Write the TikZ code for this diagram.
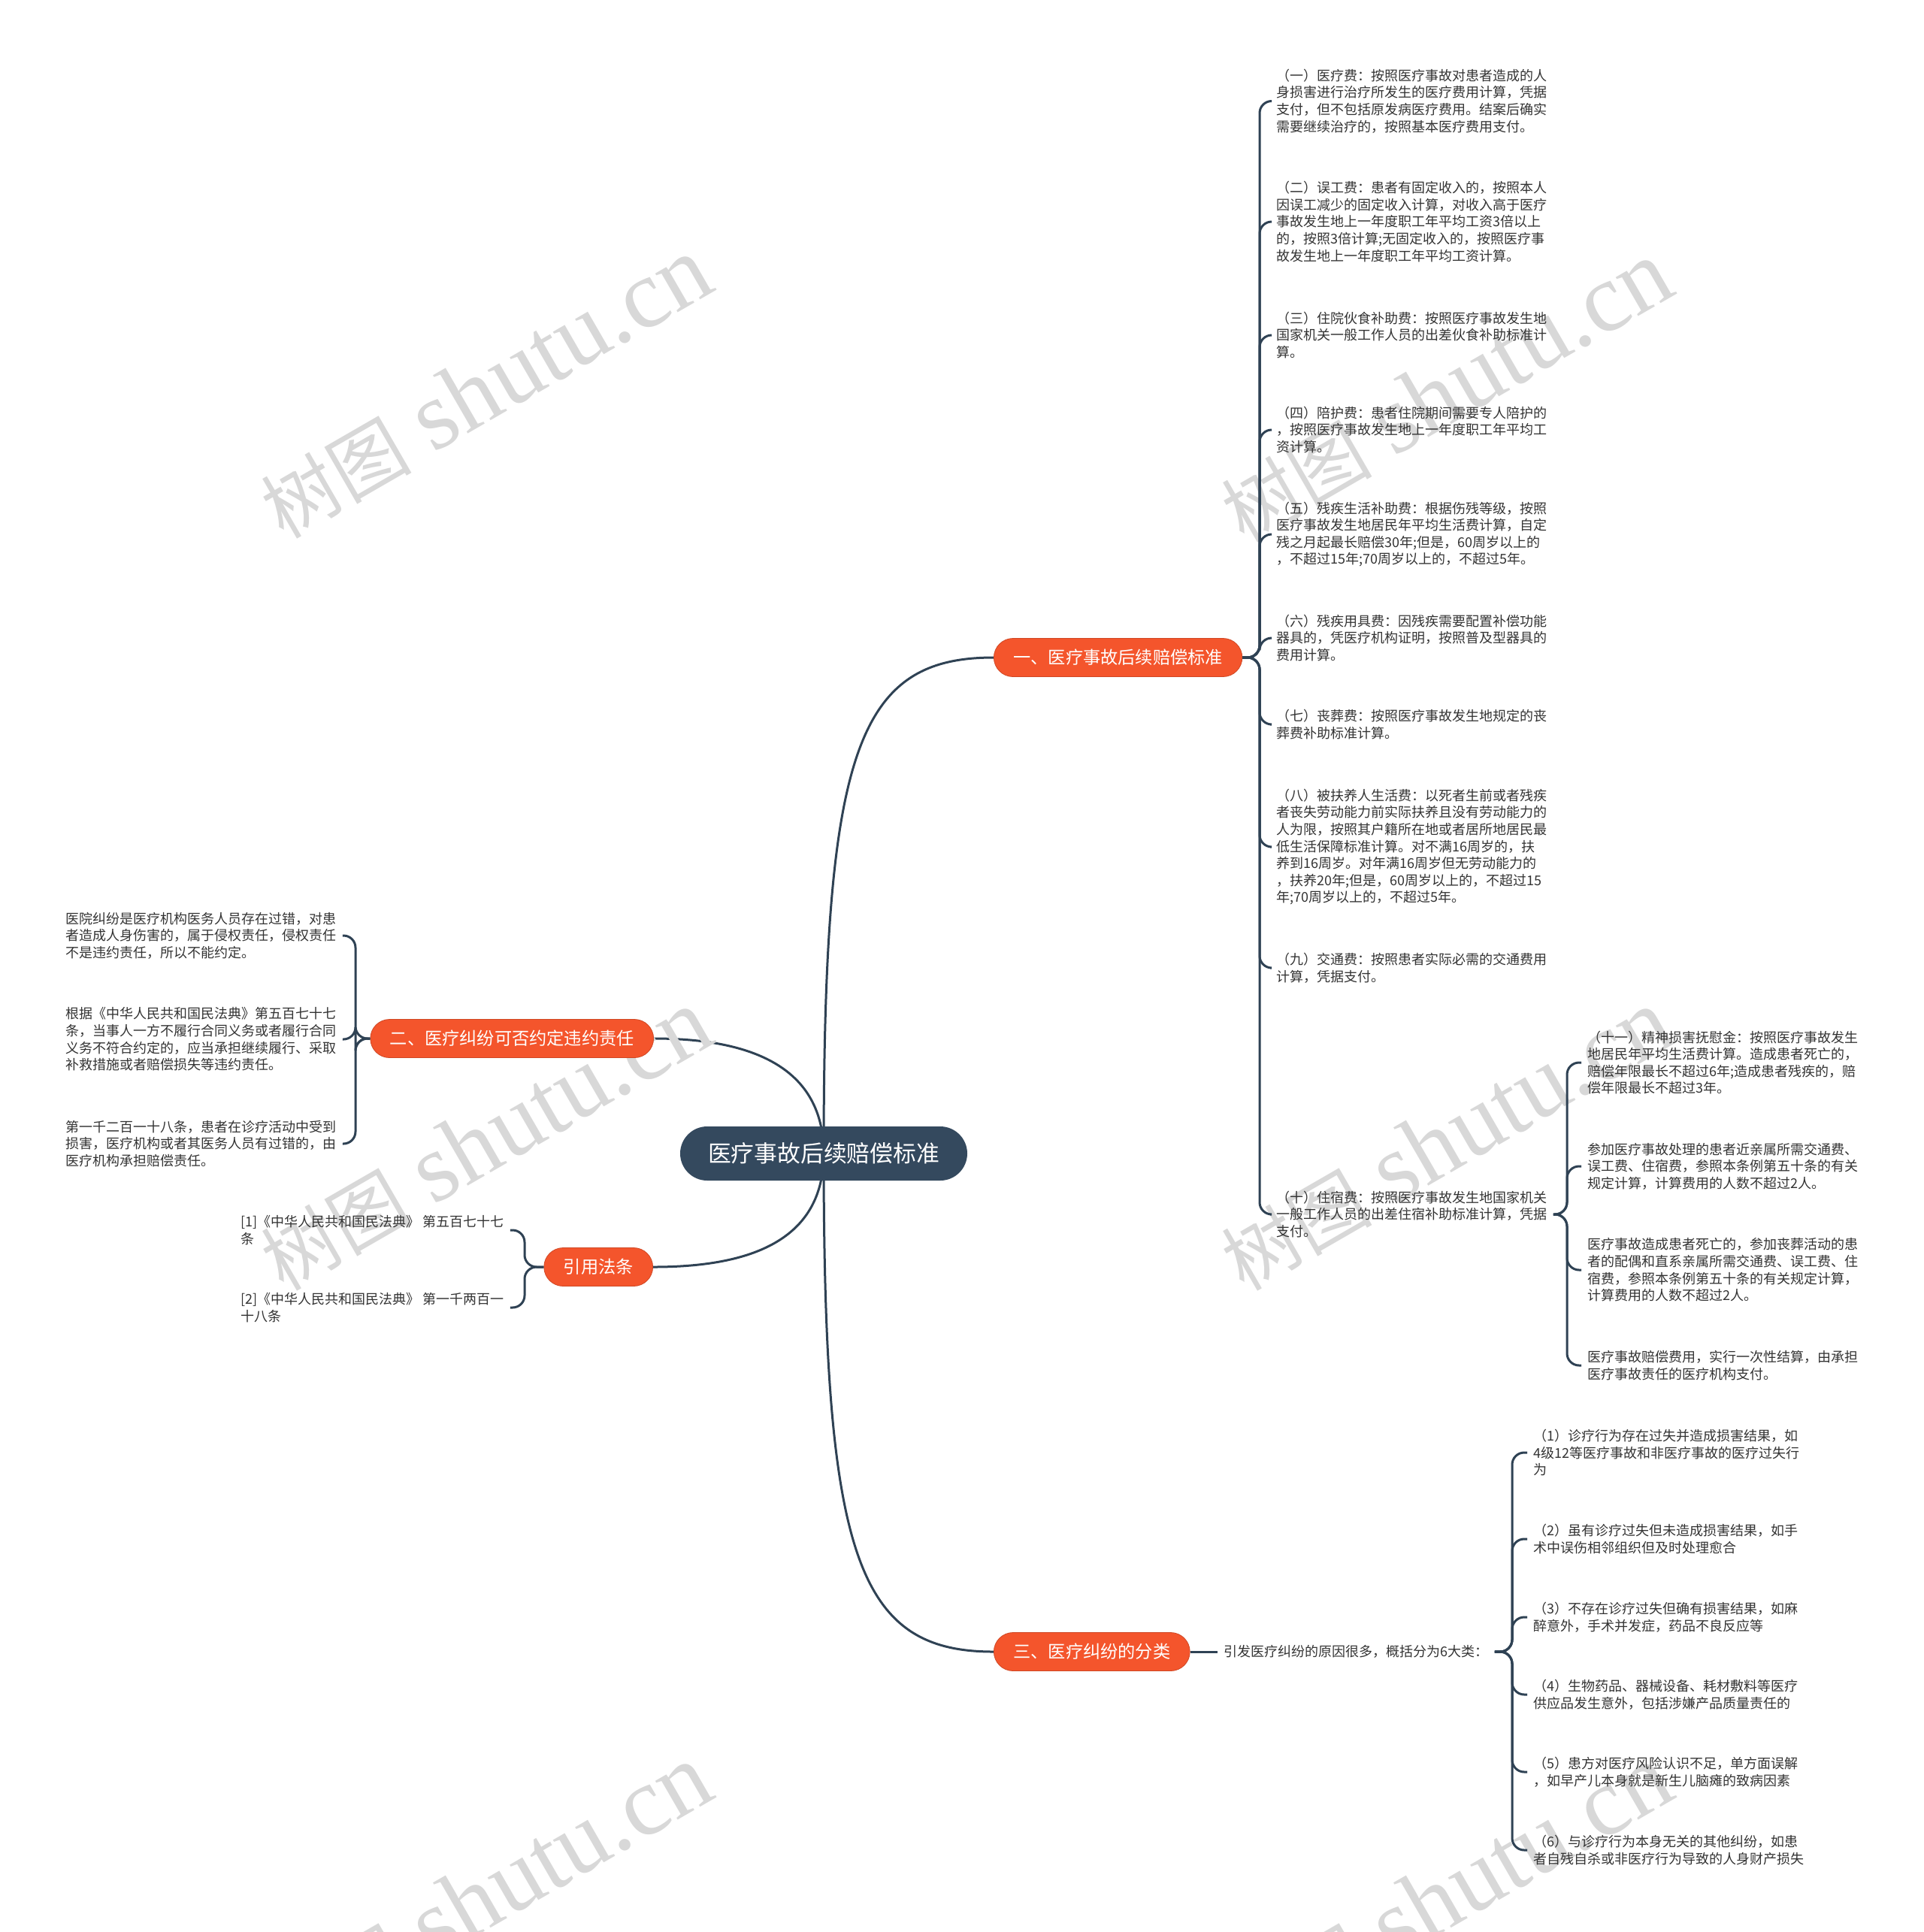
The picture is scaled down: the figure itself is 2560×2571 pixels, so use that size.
\documentclass[tikz,border=0pt]{standalone}
\usepackage{fontspec}
\setmainfont{Noto Sans CJK SC}
\newfontfamily\wmserif{Liberation Serif}
\usetikzlibrary{calc,backgrounds}
\definecolor{linec}{HTML}{2F4254}
\definecolor{rootc}{HTML}{34495E}
\definecolor{brc}{HTML}{F4552C}
\definecolor{txtc}{HTML}{333333}
\definecolor{wmc}{HTML}{D8D8D8}
\newcommand{\wmtext}{{\fontsize{50}{50}\selectfont 树图\hspace{0.3em}}{\wmserif\fontsize{65}{65}\selectfont shutu.cn}}
\begin{document}
\begin{tikzpicture}[x=0.5pt,y=-0.5pt,
 conn/.style={draw=linec,line width=1.5pt,rounded corners=8pt},
 rootbox/.style={fill=rootc,text=white,rounded corners=18pt,minimum height=36pt,inner xsep=18.5pt,inner ysep=0pt,font=\fontsize{15.4}{18}\selectfont},
 branchbox/.style={fill=brc,draw=brc!85!black,line width=0.4pt,text=white,rounded corners=12.75pt,minimum height=25.5pt,inner xsep=13pt,inner ysep=0pt,font=\fontsize{11.6}{14}\selectfont},
 leaf/.style={text=txtc,align=left,inner xsep=4pt,inner ysep=1pt,anchor=west,font=\fontsize{9}{11.3}\selectfont},
 wm/.style={text=wmc,rotate=30}]
\useasboundingbox (0,0) rectangle (2560,2571);

% watermarks
\node[wm] (wm1) at (646,516) {\wmtext};
\node[wm] (wm2) at (1924,521) {\wmtext};
\node[wm] (wm3) at (646,1517) {\wmtext};
\node[wm] (wm4) at (1924,1517) {\wmtext};
\node[wm] (wm5) at (646,2522) {\wmtext};
\node[wm] (wm6) at (1924,2522) {\wmtext};

% root and branches
\node[rootbox] (root) at (1096,1535) {医疗事故后续赔偿标准};
\node[branchbox,anchor=west] (b1) at (1322,875) {一、医疗事故后续赔偿标准};
\node[branchbox,anchor=east] (b2) at (870,1382) {二、医疗纠纷可否约定违约责任};
\node[branchbox,anchor=west] (b3) at (1322,2198) {三、医疗纠纷的分类};
\node[branchbox,anchor=east] (b4) at (869,1686) {引用法条};

% branch 1 leaves
\coordinate (s1) at (1676,875);
\node[leaf] (l1) at (1690,134.5) {（一）医疗费：按照医疗事故对患者造成的人\\身损害进行治疗所发生的医疗费用计算，凭据\\支付，但不包括原发病医疗费用。结案后确实\\需要继续治疗的，按照基本医疗费用支付。};
\node[leaf] (l2) at (1690,295) {（二）误工费：患者有固定收入的，按照本人\\因误工减少的固定收入计算，对收入高于医疗\\事故发生地上一年度职工年平均工资3倍以上\\的，按照3倍计算;无固定收入的，按照医疗事\\故发生地上一年度职工年平均工资计算。};
\node[leaf] (l3) at (1690,446) {（三）住院伙食补助费：按照医疗事故发生地\\国家机关一般工作人员的出差伙食补助标准计\\算。};
\node[leaf] (l4) at (1690,572) {（四）陪护费：患者住院期间需要专人陪护的\\，按照医疗事故发生地上一年度职工年平均工\\资计算。};
\node[leaf] (l5) at (1690,711) {（五）残疾生活补助费：根据伤残等级，按照\\医疗事故发生地居民年平均生活费计算，自定\\残之月起最长赔偿30年;但是，60周岁以上的\\，不超过15年;70周岁以上的，不超过5年。};
\node[leaf] (l6) at (1690,849) {（六）残疾用具费：因残疾需要配置补偿功能\\器具的，凭医疗机构证明，按照普及型器具的\\费用计算。};
\node[leaf] (l7) at (1690,964) {（七）丧葬费：按照医疗事故发生地规定的丧\\葬费补助标准计算。};
\node[leaf] (l8) at (1690,1127) {（八）被扶养人生活费：以死者生前或者残疾\\者丧失劳动能力前实际扶养且没有劳动能力的\\人为限，按照其户籍所在地或者居所地居民最\\低生活保障标准计算。对不满16周岁的，扶\\养到16周岁。对年满16周岁但无劳动能力的\\，扶养20年;但是，60周岁以上的，不超过15\\年;70周岁以上的，不超过5年。};
\node[leaf] (l9) at (1690,1288) {（九）交通费：按照患者实际必需的交通费用\\计算，凭据支付。};
\node[leaf] (l10) at (1690,1616) {（十）住宿费：按照医疗事故发生地国家机关\\一般工作人员的出差住宿补助标准计算，凭据\\支付。};

% leaves of (十)
\coordinate (s10) at (2085,1616);
\node[leaf] (k1) at (2104,1414) {（十一）精神损害抚慰金：按照医疗事故发生\\地居民年平均生活费计算。造成患者死亡的，\\赔偿年限最长不超过6年;造成患者残疾的，赔\\偿年限最长不超过3年。};
\node[leaf] (k2) at (2104,1552) {参加医疗事故处理的患者近亲属所需交通费、\\误工费、住宿费，参照本条例第五十条的有关\\规定计算，计算费用的人数不超过2人。};
\node[leaf] (k3) at (2104,1690) {医疗事故造成患者死亡的，参加丧葬活动的患\\者的配偶和直系亲属所需交通费、误工费、住\\宿费，参照本条例第五十条的有关规定计算，\\计算费用的人数不超过2人。};
\node[leaf] (k4) at (2104,1817) {医疗事故赔偿费用，实行一次性结算，由承担\\医疗事故责任的医疗机构支付。};

% branch 2 leaves
\coordinate (s2) at (473,1382);
\node[leaf] (m1) at (79,1245) {医院纠纷是医疗机构医务人员存在过错，对患\\者造成人身伤害的，属于侵权责任，侵权责任\\不是违约责任，所以不能约定。};
\node[leaf] (m2) at (79,1383) {根据《中华人民共和国民法典》第五百七十七\\条，当事人一方不履行合同义务或者履行合同\\义务不符合约定的，应当承担继续履行、采取\\补救措施或者赔偿损失等违约责任。};
\node[leaf] (m3) at (79,1522) {第一千二百一十八条，患者在诊疗活动中受到\\损害，医疗机构或者其医务人员有过错的，由\\医疗机构承担赔偿责任。};

% branch 4 leaves
\coordinate (s4) at (698,1686);
\node[leaf] (r1) at (312,1637) {[1]《中华人民共和国民法典》 第五百七十七\\条};
\node[leaf] (r2) at (312,1740) {[2]《中华人民共和国民法典》 第一千两百一\\十八条};

% branch 3
\node[leaf] (t0) at (1620,2198) {引发医疗纠纷的原因很多，概括分为6大类：};
\coordinate (s3) at (2012,2198);
\node[leaf] (c1) at (2032,1933) {（1）诊疗行为存在过失并造成损害结果，如\\4级12等医疗事故和非医疗事故的医疗过失行\\为};
\node[leaf] (c2) at (2032,2048) {（2）虽有诊疗过失但未造成损害结果，如手\\术中误伤相邻组织但及时处理愈合};
\node[leaf] (c3) at (2032,2152) {（3）不存在诊疗过失但确有损害结果，如麻\\醉意外，手术并发症，药品不良反应等};
\node[leaf] (c4) at (2032,2255) {（4）生物药品、器械设备、耗材敷料等医疗\\供应品发生意外，包括涉嫌产品质量责任的};
\node[leaf] (c5) at (2032,2358) {（5）患方对医疗风险认识不足，单方面误解\\，如早产儿本身就是新生儿脑瘫的致病因素};
\node[leaf] (c6) at (2032,2462) {（6）与诊疗行为本身无关的其他纠纷，如患\\者自残自杀或非医疗行为导致的人身财产损失};

\begin{scope}[on background layer]
\draw[conn] (root.center) .. controls (1096,1000) and (1140,875) .. (b1.west);
\draw[conn] (root.center) .. controls (1096,1420) and (1000,1382) .. (b2.east);
\draw[conn] (root.center) .. controls (1096,1650) and (1000,1686) .. (b4.east);
\draw[conn] (root.center) .. controls (1096,2070) and (1140,2198) .. (b3.west);
\end{scope}

\foreach \n in {l1,l2,l3,l4,l5,l6,l7,l8,l9,l10}
  \draw[conn] (b1.east) -- (s1) -- (s1 |- \n.west) -- (\n.west);
\foreach \n in {k1,k2,k3,k4}
  \draw[conn] (l10.east) -- (s10) -- (s10 |- \n.west) -- (\n.west);
\foreach \n in {m1,m2,m3}
  \draw[conn] (b2.west) -- (s2) -- (s2 |- \n.east) -- (\n.east);
\foreach \n in {r1,r2}
  \draw[conn] (b4.west) -- (s4) -- (s4 |- \n.east) -- (\n.east);
\draw[conn] (b3.east) -- (t0.west);
\foreach \n in {c1,c2,c3,c4,c5,c6}
  \draw[conn] (t0.east) -- (s3) -- (s3 |- \n.west) -- (\n.west);
\end{tikzpicture}
\end{document}
